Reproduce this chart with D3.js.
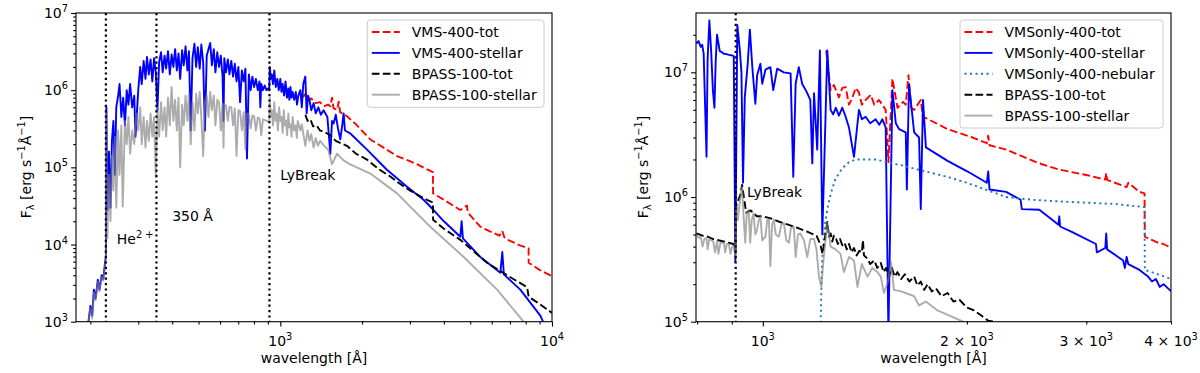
<!DOCTYPE html>
<html><head><meta charset="utf-8">
<script src="https://cdn.jsdelivr.net/npm/d3@7"></script>
<style>body{margin:0;background:#fff;} text{font-family:"DejaVu Sans",sans-serif;fill:#000;}</style>
</head><body><svg id="c" width="1200" height="373"></svg>
<script>
// ---------------- DATA (wavelength [Å], F_lambda [erg s^-1 Å^-1]) ----------------
const leftVmsTot = [[1190,8.5e5],[1218,8.3e5],[1240,9.0e5],[1260,7.5e5],[1300,7.8e5],[1350,6.8e5],[1400,7.0e5],[1450,6.2e5],[1500,6.5e5],[1528,6.2e5],[1550,8.0e5],[1570,5.8e5],[1620,5.6e5],[1640,7.1e5],[1660,5.2e5],[1759,4.6e5],[1900,3.6e5],[2145,2.3e5],[2400,1.8e5],[2689,1.4e5],[3000,1.2e5],[3185,1.1e5],[3450,9.5e4],[3646,8.7e4],[3650,4.6e4],[4000,3.8e4],[4597,2.8e4],[4861,3.2e4],[4900,2.6e4],[5446,1.7e4],[6400,1.3e4],[6563,1.5e4],[6700,1.2e4],[7500,1.0e4],[8200,8.9e3],[8205,5.8e3],[9000,4.7e3],[10000,3.9e3]];
const leftVmsStellar = [[196,9.0e2],[200,1.6e3],[203,1.2e3],[206,2.6e3],[209,2.0e3],[213,3.5e3],[216,2.6e3],[220,4.0e3],[223,3.6e3],[226,5.5e3],[228,7.0e3],[229,6.0e5],[231,2.8e4],[234,1.6e5],[237,3.0e4],[240,2.2e5],[243,4.0e5],[246,8.0e4],[249,6.0e5],[253,8.5e5],[256,1.2e6],[260,4.5e5],[264,8.0e5],[268,3.5e5],[272,1.0e6],[276,6.5e5],[280,1.2e6],[285,6.0e5],[290,8.5e5],[293,2.5e5],
 [300,1.0e6],[305,2.0e6],[309,1.2e6],[314,2.4e6],[319,1.4e6],[323,2.7e6],[328,1.6e6],[333,2.5e6],[338,1.3e6],[343,2.6e6],[348,1.7e6],[353,5.5e5],[358,2.3e6],[364,3.1e6],[369,1.7e6],[375,2.8e6],[380,1.9e6],[386,3.2e6],[392,1.6e6],[398,2.9e6],[404,2.0e6],[410,3.4e6],[416,1.8e6],[422,3.0e6],[428,1.4e6],[435,3.3e6],[441,2.1e6],[448,3.7e6],[455,1.8e6],[461,3.2e6],[468,3.0e5],[475,2.6e6],[483,4.0e6],[490,2.0e6],[497,3.6e6],[505,1.9e6],[512,3.9e6],[520,2.3e6],[528,3.0e5],[536,2.8e6],[544,3.4e6],[552,4.1e6],[560,2.1e6],[569,3.4e6],[577,1.7e6],[586,3.1e6],[595,2.0e6],[604,2.8e6],[613,1.5e6],[618,4.0e5],[622,2.6e6],[631,1.7e6],[641,2.5e6],[650,1.6e6],[660,2.4e6],[670,1.5e6],[680,2.2e6],[690,1.3e6],[701,2.0e6],[711,7.0e5],[722,1.8e6],[733,1.3e6],[744,1.9e6],[754,1.3e5],[766,1.6e6],[778,1.0e6],[789,1.5e6],[801,1.1e6],[813,1.4e6],[826,1.0e6],[838,1.3e6],[844,6.0e5],[851,1.2e6],[863,1.0e6],[876,1.15e6],[889,1.0e6],[903,1.05e6],[910,1.0e6],
 [915,2.0e6],[922,1.4e6],[930,1.6e6],[940,1.2e6],[950,1.8e6],[962,1.1e6],[975,1.4e6],[987,1.0e6],[1000,1.4e6],[1010,9.5e5],[1020,1.2e6],[1033,8.5e5],[1045,1.3e6],[1058,8.0e5],[1070,1.05e6],[1080,7.5e5],[1090,1.1e6],[1100,8.0e5],[1110,9.5e5],[1125,7.5e5],[1140,9.5e5],[1152,6.5e5],[1165,8.5e5],[1185,1.0e6],[1200,6.0e5],[1215,1.2e6],[1236,1.5e6],[1250,5.0e5],[1265,8.5e5],[1280,7.5e5],[1300,5.5e5],[1326,6.8e5],[1350,5.0e5],[1380,6.0e5],[1410,4.8e5],[1443,5.5e5],[1490,4.5e5],[1528,1.5e5],[1550,4.0e5],[1571,3.7e5],[1600,4.8e5],[1630,3.2e5],[1663,2.3e5],[1690,3.5e5],[1710,5.0e5],[1730,3.0e5],[1810,2.75e5],[2085,1.7e5],[2468,9.3e4],[2927,5.6e4],[3367,3.8e4],[3666,2.8e4],[4000,2.0e4],[4597,1.26e4],[4650,2.0e4],[4700,1.2e4],[5446,6.9e3],[6452,4.3e3],[6563,8.0e3],[6650,4.1e3],[7643,2.6e3],[9056,1.2e3],[9400,9.0e2]];
const leftBpassTot = [[1236,4.8e5],[1260,4.0e5],[1290,4.2e5],[1320,3.4e5],[1360,3.5e5],[1400,3.0e5],[1450,2.9e5],[1528,2.6e5],[1600,2.2e5],[1759,1.9e5],[1900,1.5e5],[2085,1.26e5],[2300,9.5e4],[2541,7.6e4],[2689,6.5e4],[3000,5.0e4],[3466,3.8e4],[3646,3.5e4],[3650,2.1e4],[4000,1.6e4],[4597,1.15e4],[5767,5.8e3],[7000,3.8e3],[8100,2.8e3],[8205,2.1e3],[9000,1.7e3],[10000,1.3e3]];
const leftBpassStellar = [[196,9e2],[200,1.5e3],[203,1.1e3],[206,2.4e3],[209,1.9e3],[213,3.3e3],[216,2.5e3],[220,3.8e3],[223,3.4e3],[226,5.0e3],[228,6.5e3],[229,5.0e5],[231,1.2e4],[234,8.0e4],[237,2.0e4],[240,1.4e5],[243,5.0e4],[246,2.5e5],[249,3.0e4],[253,3.0e5],[256,8.0e4],[260,3.5e5],[263,3.1e4],[268,4.0e5],[272,2.0e5],[276,4.5e5],[280,1.5e5],[285,3.0e5],[290,2.0e5],[295,5.0e5],
 [300,3.0e5],[305,6.0e5],[309,2.0e5],[314,4.5e5],[319,1.8e5],[323,4.0e5],[328,2.2e5],[333,5.0e5],[338,2.5e5],[343,4.5e5],[348,7.5e4],[353,6.0e5],[358,2.5e5],[364,7.0e5],[369,3.0e5],[375,6.0e5],[380,2.5e5],[386,8.0e5],[392,3.5e5],[398,1.1e6],[404,4.0e5],[410,7.5e5],[416,3.0e5],[422,8.0e5],[428,1.0e5],[435,6.5e5],[441,3.5e5],[448,8.5e5],[455,4.0e5],[461,9.0e5],[468,2.0e5],[475,7.0e5],[483,3.0e5],[490,9.0e5],[497,5.0e5],[505,9.5e5],[512,4.5e5],[520,1.4e5],[528,7.0e5],[536,8.5e5],[544,4.5e5],[552,9.5e5],[560,5.5e5],[569,8.5e5],[577,3.5e5],[586,7.5e5],[595,6.9e5],[604,3.0e5],[613,6.7e5],[618,1.8e5],[622,6.5e5],[631,6.3e5],[641,4.0e5],[650,6.1e5],[660,6.0e5],[670,3.5e5],[680,5.8e5],[690,1.4e5],[701,5.5e5],[711,5.4e5],[722,3.0e5],[733,5.2e5],[744,1.7e5],[754,5.0e5],[766,4.9e5],[778,3.2e5],[789,4.7e5],[801,4.6e5],[813,3.0e5],[826,4.4e5],[838,4.3e5],[851,2.6e5],[863,4.2e5],[876,4.1e5],[889,4.0e5],[903,3.9e5],[910,3.8e5],
 [915,8.0e5],[922,4.5e5],[930,5.5e5],[940,3.5e5],[950,7.0e5],[960,4.0e5],[970,5.0e5],[980,3.0e5],[990,6.0e5],[1000,4.0e5],[1010,4.5e5],[1020,2.8e5],[1030,5.5e5],[1040,3.5e5],[1050,4.0e5],[1060,2.6e5],[1070,5.0e5],[1080,3.3e5],[1090,3.6e5],[1100,2.5e5],[1110,4.5e5],[1125,3.0e5],[1140,3.5e5],[1150,2.4e5],[1160,4.0e5],[1185,3.0e5],[1200,3.6e5],[1236,1.9e5],[1260,3.0e5],[1280,2.2e5],[1300,2.7e5],[1326,1.8e5],[1350,2.4e5],[1375,1.9e5],[1400,2.2e5],[1450,1.9e5],[1500,1.7e5],[1550,1.1e5],[1617,1.5e5],[1700,1.25e5],[1800,1.1e5],[2145,8.3e4],[2689,4.6e4],[3563,1.7e4],[4730,6.9e3],[6278,2.6e3],[7860,1.0e3],[8300,8e2]];

const rightVmsTot = [[1240,1.5e7],[1259,7.2e6],[1273,7.9e6],[1295,6.3e6],[1310,7.5e6],[1325,7.6e6],[1340,5.5e6],[1356,6.3e6],[1371,7.5e6],[1386,6.9e6],[1400,5.5e6],[1418,6.0e6],[1443,6.6e6],[1460,5.5e6],[1484,6.0e6],[1518,5.0e6],[1532,1.9e6],[1553,8.9e6],[1580,5.2e6],[1610,5.8e6],[1625,5.5e6],[1640,9.5e6],[1655,5.2e6],[1672,5.0e6],[1710,6.0e6],[1723,4.3e6],[1740,4.3e6],[1873,3.5e6],[2039,3.0e6],[2140,2.7e6],[2150,3.1e6],[2160,2.6e6],[2285,2.4e6],[2558,1.86e6],[2737,1.66e6],[3000,1.5e6],[3200,1.38e6],[3210,1.55e6],[3220,1.37e6],[3440,1.2e6],[3460,1.3e6],[3594,1.1e6],[3656,1.07e6],[3660,4.8e5],[3826,4.3e5],[3900,4.2e5],[4004,3.9e5]];
const rightVmsStellar = [[798,1.7e7],[804,1.78e7],[810,1.6e7],[814,1.66e7],[818,1.41e7],[826,2.1e6],[829,1.26e7],[834,2.6e7],[839,1.5e7],[844,7.2e6],[848.5,5.2e6],[852,1.2e7],[856,2.0e7],[864,1.48e7],[870,1.45e7],[876,1.41e7],[884,1.4e7],[891,1.38e7],[900,1.37e7],[906,1.35e7],[911,3.0e5],[917,2.4e7],[925,1.5e7],[930,1.0e7],[935,1.3e6],[940.6,6.3e6],[950,1.17e7],[957,2.2e7],[965,1.1e7],[975,5.6e6],[981,9.5e6],[992,1.17e7],[998,8.1e6],[1009,1.05e7],[1026,1.1e7],[1036,7.2e6],[1050,1.07e7],[1074,1.0e7],[1099,9.8e6],[1109,1.45e6],[1118,8.1e6],[1130,1.1e7],[1143,8.1e6],[1160,7.0e6],[1175,6.0e6],[1183,1.86e6],[1190,6.8e6],[1203,2.4e6],[1214,1.5e7],[1224,5.0e5],[1245,1.5e7],[1259,5.0e6],[1270,4.6e6],[1281,5.2e6],[1295,4.5e6],[1310,5.2e6],[1325,4.4e6],[1340,3.6e6],[1363,2.1e6],[1386,5.0e6],[1400,4.2e6],[1418,4.4e6],[1440,3.9e6],[1467,4.2e6],[1485,3.8e6],[1501,4.2e6],[1518,3.6e6],[1532,8.0e4],[1553,7.2e6],[1571,3.9e6],[1589,3.5e6],[1625,3.3e6],[1631,1.15e6],[1643,8.0e6],[1672,3.3e6],[1700,3.0e6],[1710,8.0e5],[1723,6.0e6],[1740,2.5e6],[1873,1.95e6],[2005,1.6e6],[2140,1.3e6],[2150,1.6e6],[2160,1.15e6],[2285,1.1e6],[2400,9.5e5],[2410,8.0e5],[2558,7.9e5],[2730,6.0e5],[2737,7.0e5],[2745,5.8e5],[2866,5.2e5],[3100,4.2e5],[3110,3.6e5],[3200,3.9e5],[3210,5.1e5],[3220,3.8e5],[3400,3.1e5],[3420,2.7e5],[3440,3.3e5],[3460,2.9e5],[3594,2.6e5],[3700,2.3e5],[3750,2.1e5],[3800,2.2e5],[3850,1.9e5],[3900,2.0e5],[3981,1.8e5],[4004,1.75e5]];
const rightVmsNebular = [[1216,8.0e4],[1219,1.5e5],[1222,2.7e5],[1226,3.8e5],[1235,6.0e5],[1245,8.0e5],[1260,1.07e6],[1280,1.4e6],[1310,1.7e6],[1340,1.9e6],[1371,2.0e6],[1420,2.0e6],[1470,2.0e6],[1520,1.9e6],[1600,1.8e6],[1700,1.65e6],[1873,1.45e6],[2000,1.3e6],[2285,1.0e6],[2500,9.5e5],[2750,9.2e5],[3000,9.0e5],[3300,8.8e5],[3494,8.5e5],[3656,8.3e5],[3660,2.6e5],[3826,2.4e5],[4004,2.2e5]];
const rightBpassTot = [[798,5.1e5],[815,4.9e5],[830,4.8e5],[845,4.6e5],[860,4.5e5],[875,4.4e5],[890,4.3e5],[905,4.2e5],[911,3.6e5],[914,8.6e5],[927,1.05e6],[932,1.25e6],[945,7.5e5],[960,7.8e5],[980,7.0e5],[1000,7.0e5],[1030,6.7e5],[1060,6.3e5],[1090,6.0e5],[1120,5.7e5],[1160,5.3e5],[1200,4.9e5],[1215,4.2e5],[1225,3.5e5],[1245,6.3e5],[1252,4.8e5],[1259,5.1e5],[1266,4.4e5],[1273,4.9e5],[1280,4.8e5],[1290,4.2e5],[1300,4.6e5],[1310,4.1e5],[1320,4.3e5],[1330,3.8e5],[1340,4.2e5],[1352,3.6e5],[1363,3.9e5],[1375,3.4e5],[1388,3.7e5],[1400,3.6e5],[1405,4.5e5],[1410,3.4e5],[1427,3.2e5],[1440,2.9e5],[1460,3.1e5],[1475,2.7e5],[1493,2.95e5],[1507,2.5e5],[1520,2.7e5],[1535,2.3e5],[1550,2.7e5],[1565,2.3e5],[1580,2.5e5],[1600,2.2e5],[1620,2.4e5],[1645,2.1e5],[1672,2.3e5],[1690,1.95e5],[1710,2.1e5],[1730,1.8e5],[1750,2.0e5],[1775,1.75e5],[1800,1.85e5],[1835,1.6e5],[1873,1.7e5],[1910,1.45e5],[1950,1.5e5],[2000,1.3e5],[2049,1.23e5],[2100,1.12e5],[2150,1.02e5],[2193,1.0e5],[2250,9.2e4]];
const rightBpassStellar = [[798,5.0e5],[805,4.7e5],[810,4.8e5],[815,4.0e5],[820,4.6e5],[826,4.7e5],[829,3.8e5],[834,4.6e5],[840,4.5e5],[845,4.4e5],[850,3.6e5],[856,4.4e5],[860,3.5e5],[866,4.3e5],[876,4.3e5],[880,3.6e5],[885,4.2e5],[891,4.2e5],[896,3.5e5],[900,3.9e5],[906,4.1e5],[911,3.3e5],[914,8.3e5],[918,6.5e5],[922,7.9e5],[927,1.0e6],[932,1.2e6],[937,6.9e5],[942,4.3e5],[947,7.5e5],[953,7.9e5],[958,4.3e5],[963,6.5e5],[969,7.4e5],[975,5.0e5],[981,5.5e5],[986,6.5e5],[992,6.9e5],[998,4.5e5],[1009,4.8e5],[1015,6.5e5],[1021,6.6e5],[1026,2.8e5],[1032,6.0e5],[1038,6.6e5],[1045,5.0e5],[1056,4.8e5],[1065,6.0e5],[1074,6.2e5],[1083,4.5e5],[1093,4.3e5],[1100,5.6e5],[1111,5.8e5],[1118,3.3e5],[1127,5.0e5],[1136,5.1e5],[1150,4.5e5],[1163,3.3e5],[1175,4.6e5],[1190,4.6e5],[1200,3.8e5],[1210,2.3e5],[1220,1.9e5],[1228,3.0e5],[1245,6.2e5],[1259,4.0e5],[1280,3.8e5],[1302,3.5e5],[1317,2.5e5],[1340,3.3e5],[1363,3.1e5],[1379,1.9e5],[1400,2.9e5],[1427,2.3e5],[1450,2.7e5],[1476,2.5e5],[1493,2.3e5],[1509,1.7e5],[1530,2.1e5],[1546,3.0e5],[1561,1.8e5],[1600,1.75e5],[1672,1.6e5],[1700,1.35e5],[1740,1.45e5],[1810,1.23e5],[1900,1.1e5],[1975,1.0e5],[2050,8.8e4]];

// reference lines & annotations (data coordinates)
const leftVLines = [228, 350, 912];
const rightVLines = [912];
const leftNotes = [{wl:250, f:1.03e4, parts:[["He","n"],["2 +","sup"]]},{wl:400, f:2.0e4, parts:[["350 Å","n"]]},{wl:1000, f:6.9e4, parts:[["LyBreak","n"]]}];
const rightNotes = [{wl:948, f:1.0e6, parts:[["LyBreak","n"]]}];

// ticks
const leftXMajor = [1e3, 1e4], leftXLabels = [["10","3"],["10","4"]];
const leftYMajor = [1e3,1e4,1e5,1e6,1e7], leftYLabels = [["10","3"],["10","4"],["10","5"],["10","6"],["10","7"]];
const rightXLabelled = [1000,2000,3000,4000], rightXLabels = [["10","3"],["2 × 10","3"],["3 × 10","3"],["4 × 10","3"]];
const rightYMajor = [1e5,1e6,1e7], rightYLabels = [["10","5"],["10","6"],["10","7"]];

const leftLegend = ["VMS-400-tot","VMS-400-stellar","BPASS-100-tot","BPASS-100-stellar"];
const rightLegend = ["VMSonly-400-tot","VMSonly-400-stellar","VMSonly-400-nebular","BPASS-100-tot","BPASS-100-stellar"];

// ---------------- STYLES ----------------
const ST = {
  red:{stroke:"#ff0000", dash:"7.7,3.3", op:1},
  blue:{stroke:"#0000ff", dash:null, op:1},
  neb:{stroke:"#1f77b4", dash:"2.1,3.4", op:1},
  black:{stroke:"#000000", dash:"7.7,3.3", op:1},
  grey:{stroke:"#808080", dash:null, op:0.65}
};
const FS = 14;
const svg = d3.select("#c");

function richText(parent, x, y, parts, anchor, fs){
  fs = fs || FS;
  const t = parent.append("text").attr("x",x).attr("y",y).attr("font-size",fs).attr("text-anchor",anchor||"start");
  let cur = 0;
  parts.forEach(([s,k])=>{
    const target = k==="sup" ? -0.42*fs : (k==="sub" ? 0.22*fs : 0);
    t.append("tspan").attr("dy", target-cur).attr("font-size", k==="n"?fs:fs*0.7).text(s);
    cur = target;
  });
  return t;
}

function drawPanel(cfg){
  const x = d3.scaleLog().domain(cfg.xd).range([cfg.x0, cfg.x1]);
  const y = d3.scaleLog().domain(cfg.yd).range([cfg.y1, cfg.y0]);
  const g = svg.append("g");
  const cid = "clip"+cfg.id;
  svg.append("defs").append("clipPath").attr("id",cid).append("rect")
    .attr("x",cfg.x0).attr("y",cfg.y0).attr("width",cfg.x1-cfg.x0).attr("height",cfg.y1-cfg.y0);
  const plot = g.append("g").attr("clip-path",`url(#${cid})`);
  const line = d3.line().x(d=>x(d[0])).y(d=>y(d[1]));
  cfg.series.forEach(s=>{
    const st = ST[s.style];
    plot.append("path").datum(s.data).attr("d",line).attr("fill","none")
      .attr("stroke",st.stroke).attr("stroke-opacity",st.op).attr("stroke-width",1.9)
      .attr("stroke-linejoin","round").attr("stroke-dasharray",st.dash);
  });
  cfg.vlines.forEach(v=>{
    plot.append("line").attr("x1",x(v)).attr("x2",x(v)).attr("y1",cfg.y0).attr("y2",cfg.y1)
      .attr("stroke","#000").attr("stroke-width",2.2).attr("stroke-dasharray","2.2,3.2");
  });
  cfg.notes.forEach(n=>richText(g, x(n.wl), y(n.f), n.parts, "start"));

  // axes
  const minorX = x.ticks().filter(v=>cfg.xMinor(v));
  const minorY = y.ticks().filter(v=>Math.abs(Math.log10(v)-Math.round(Math.log10(v)))>1e-6 && v < cfg.yd[1]*0.999);
  const ax = (a,vals,size)=>{ const gg=g.append("g").call(a.tickValues(vals).tickSize(size).tickSizeOuter(0).tickFormat(""));
    gg.select(".domain").remove(); gg.selectAll("line").attr("stroke","#000").attr("stroke-width",1.1); return gg; };
  ax(d3.axisBottom(x), cfg.xMajorTicks, 4.9).attr("transform",`translate(0,${cfg.y1})`);
  ax(d3.axisBottom(x), minorX, 2.8).attr("transform",`translate(0,${cfg.y1})`);
  ax(d3.axisLeft(y), cfg.yMajor, 4.9).attr("transform",`translate(${cfg.x0},0)`);
  ax(d3.axisLeft(y), minorY, 2.8).attr("transform",`translate(${cfg.x0},0)`);
  cfg.xLabVals.forEach((v,i)=>richText(g, x(v), 346, [[cfg.xLabs[i][0],"n"],[cfg.xLabs[i][1],"sup"]], "middle"));
  cfg.yMajor.forEach((v,i)=>richText(g, cfg.x0-8, y(v)+5, [[cfg.yLabs[i][0],"n"],[cfg.yLabs[i][1],"sup"]], "end"));
  g.append("rect").attr("x",cfg.x0).attr("y",cfg.y0).attr("width",cfg.x1-cfg.x0).attr("height",cfg.y1-cfg.y0)
    .attr("fill","none").attr("stroke","#000").attr("stroke-width",1.1);

  // axis labels
  g.append("text").attr("x",(cfg.x0+cfg.x1)/2).attr("y",363).attr("text-anchor","middle").attr("font-size",FS).text("wavelength [Å]");
  const yl = richText(g, 0, 0, [["F","n"],["λ","sub"],[" [erg s","n"],["−1","sup"],["Å","n"],["−1","sup"],["]","n"]], "middle");
  yl.attr("transform",`translate(${cfg.ylabX},167) rotate(-90)`);

  // legend
  const L = cfg.legend;
  const lg = g.append("g");
  lg.append("rect").attr("x",L.x).attr("y",L.y).attr("width",L.w).attr("height",L.h).attr("rx",3)
    .attr("fill","#fff").attr("fill-opacity",0.8).attr("stroke","#cccccc").attr("stroke-width",1);
  L.labels.forEach((lab,i)=>{
    const st = ST[L.styles[i]];
    const yy = L.y + 12 + i*20.9;
    lg.append("line").attr("x1",L.x+4.5).attr("x2",L.x+32.5).attr("y1",yy).attr("y2",yy)
      .attr("stroke",st.stroke).attr("stroke-opacity",st.op).attr("stroke-width",1.9).attr("stroke-dasharray",st.dash);
    lg.append("text").attr("x",L.x+44.5).attr("y",yy+5).attr("font-size",FS).text(lab);
  });
}

drawPanel({id:"L", x0:76, x1:552, y0:13, y1:321.7, xd:[177,10000], yd:[1e3,1e7],
  series:[{data:leftVmsTot,style:"red"},{data:leftVmsStellar,style:"blue"},{data:leftBpassTot,style:"black"},{data:leftBpassStellar,style:"grey"}],
  vlines:leftVLines, notes:leftNotes,
  xMinor:v=>!leftXMajor.includes(v), xMajorTicks:leftXMajor, xLabVals:leftXMajor, xLabs:leftXLabels,
  yMajor:leftYMajor, yLabs:leftYLabels, ylabX:31,
  legend:{x:367.3,y:20,w:176.7,h:87.3,labels:leftLegend,styles:["red","blue","black","grey"]}});

drawPanel({id:"R", x0:696, x1:1171, y0:13, y1:321.7, xd:[797,4000], yd:[1e5,2.99e7],
  series:[{data:rightVmsTot,style:"red"},{data:rightVmsStellar,style:"blue"},{data:rightVmsNebular,style:"neb"},{data:rightBpassTot,style:"black"},{data:rightBpassStellar,style:"grey"}],
  vlines:rightVLines, notes:rightNotes,
  xMinor:v=>v!==1000, xMajorTicks:[1000], xLabVals:rightXLabelled, xLabs:rightXLabels,
  yMajor:rightYMajor, yLabs:rightYLabels, ylabX:648,
  legend:{x:960,y:20,w:203,h:108,labels:rightLegend,styles:["red","blue","neb","black","grey"]}});
</script></body></html>
